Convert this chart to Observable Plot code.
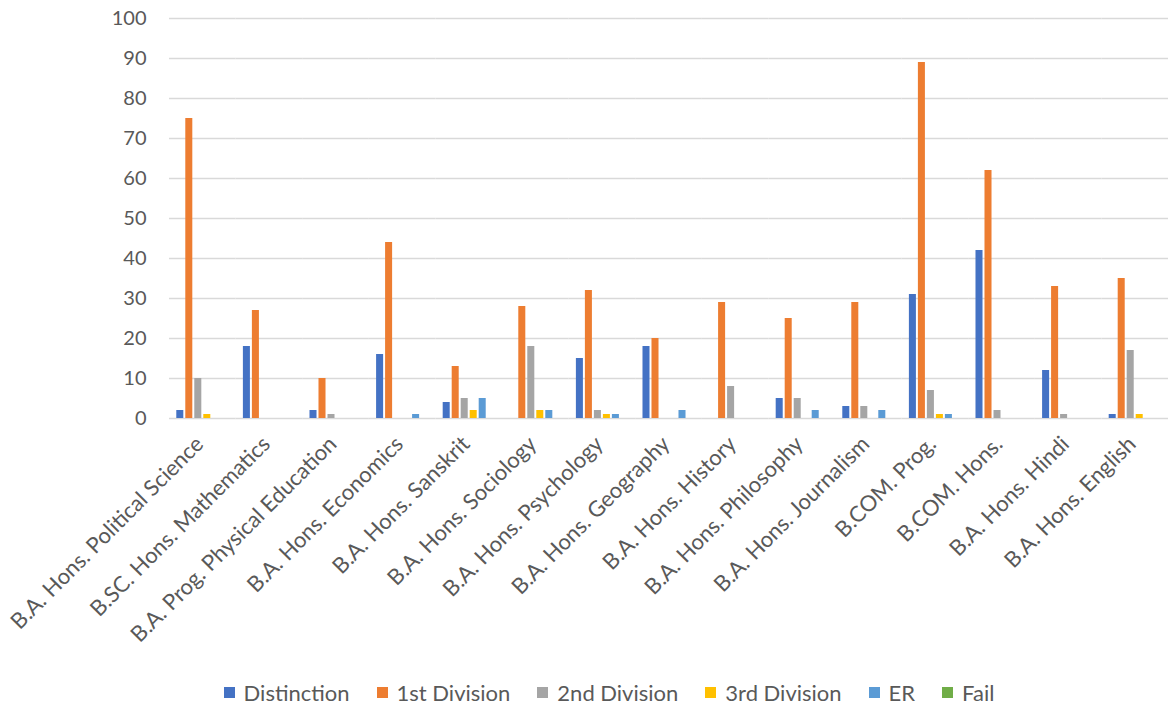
<!DOCTYPE html>
<html>
<head>
<meta charset="utf-8">
<script src="https://cdn.jsdelivr.net/npm/d3@7"></script>
<script src="https://cdn.jsdelivr.net/npm/@observablehq/plot@0.6"></script>
<style>
  body { margin: 0; background: #fff; font-family: Lato, "Open Sans", sans-serif; }
  #legend { display: flex; justify-content: center; align-items: center; gap: 27px; margin-top: 14px; padding-left: 50px; font-size: 22px; color: #595959; }
  .item { display: flex; align-items: center; gap: 9px; }
  .sw { width: 11px; height: 11px; display: inline-block; }
</style>
</head>
<body>
<div id="chart"></div>
<div id="legend"></div>
<script>
const categories = [
  "B.A. Hons. Political Science",
  "B.SC. Hons. Mathematics",
  "B.A. Prog. Physical Education",
  "B.A. Hons. Economics",
  "B.A. Hons. Sanskrit",
  "B.A. Hons. Sociology",
  "B.A. Hons. Psychology",
  "B.A. Hons. Geography",
  "B.A. Hons. History",
  "B.A. Hons. Philosophy",
  "B.A. Hons. Journalism",
  "B.COM. Prog.",
  "B.COM. Hons.",
  "B.A. Hons. Hindi",
  "B.A. Hons. English"
];
const seriesNames = ["Distinction", "1st Division", "2nd Division", "3rd Division", "ER", "Fail"];
const distinction    = [2, 18, 2, 16, 4, 0, 15, 18, 0, 5, 3, 31, 42, 12, 1];
const firstDivision  = [75, 27, 10, 44, 13, 28, 32, 20, 29, 25, 29, 89, 62, 33, 35];
const secondDivision = [10, 0, 1, 0, 5, 18, 2, 0, 8, 5, 3, 7, 2, 1, 17];
const thirdDivision  = [1, 0, 0, 0, 2, 2, 1, 0, 0, 0, 0, 1, 0, 0, 1];
const er             = [0, 0, 0, 1, 5, 2, 1, 2, 0, 2, 2, 1, 0, 0, 0];
const fail           = [0, 0, 0, 0, 0, 0, 0, 0, 0, 0, 0, 0, 0, 0, 0];
const yTicks = [0, 10, 20, 30, 40, 50, 60, 70, 80, 90, 100];
const colors = ["#4472C4", "#ED7D31", "#A5A5A5", "#FFC000", "#5B9BD5", "#70AD47"];

const seriesValues = [distinction, firstDivision, secondDivision, thirdDivision, er, fail];
const table = [];
categories.forEach((c, i) => {
  seriesNames.forEach((s, j) => {
    table.push({category: c, series: s, value: seriesValues[j][i]});
  });
});

const chart = Plot.plot({
  width: 1168,
  height: 665,
  marginTop: 18,
  marginBottom: 247,
  marginLeft: 169,
  marginRight: 0,
  style: {fontSize: "20px", fontFamily: "Lato, 'Open Sans', sans-serif", color: "#595959", background: "#fff"},
  fx: {domain: categories, padding: 0, round: false, axis: null},
  x: {domain: seriesNames, axis: null, round: false, paddingInner: 0.22, paddingOuter: 0.81},
  y: {domain: [0, 100], axis: null},
  color: {domain: seriesNames, range: colors},
  marks: [
    Plot.gridY(yTicks, {stroke: "#d9d9d9", strokeOpacity: 1, strokeWidth: 1.3}),
    Plot.axisY({ticks: yTicks, tickSize: 0, tickPadding: 23, label: null, fontSize: 20}),
    Plot.axisFx({anchor: "bottom", tickRotate: -45, tickSize: 0, tickPadding: 22, dx: -3, label: null, fontSize: 22}),
    Plot.barY(table, {fx: "category", x: "series", y: "value", fill: "series"})
  ]
});
document.getElementById("chart").appendChild(chart);

const legend = document.getElementById("legend");
seriesNames.forEach((s, j) => {
  const item = document.createElement("div");
  item.className = "item";
  const sw = document.createElement("span");
  sw.className = "sw";
  sw.style.background = colors[j];
  const t = document.createElement("span");
  t.textContent = s;
  item.appendChild(sw);
  item.appendChild(t);
  legend.appendChild(item);
});
</script>
</body>
</html>
